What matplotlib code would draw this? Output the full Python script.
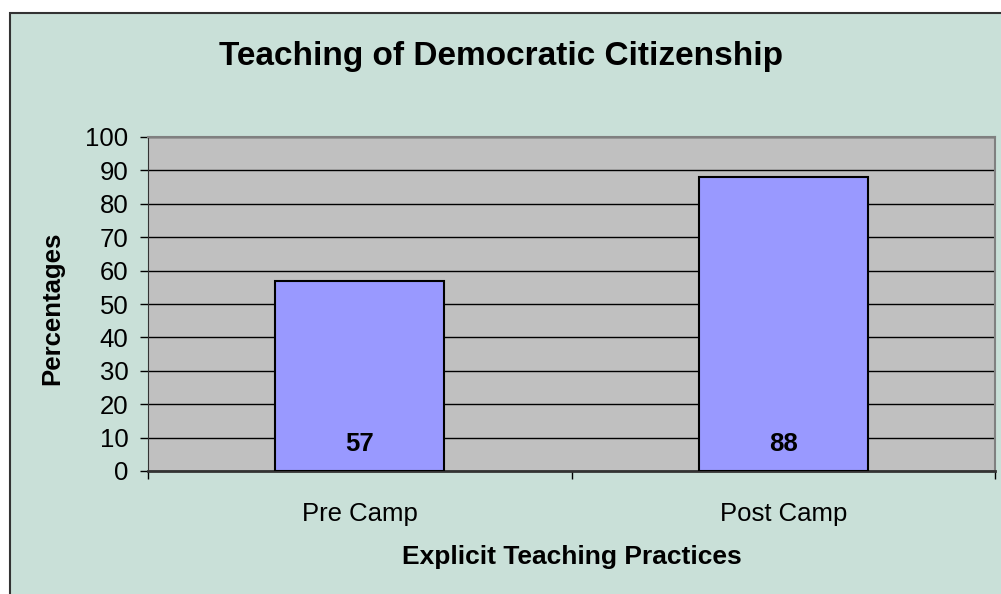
import matplotlib.pyplot as plt
from matplotlib.patches import Rectangle

# chart data
categories = ["Pre Camp", "Post Camp"]
values = [57, 88]
title = "Teaching of Democratic Citizenship"
x_title = "Explicit Teaching Practices"
y_title = "Percentages"
y_ticks = list(range(0, 101, 10))

plt.rcParams['font.family'] = ['Liberation Sans', 'DejaVu Sans']

W, H = 1001, 594
fig = plt.figure(figsize=(W / 100, H / 100), dpi=100, facecolor='white')

# outer chart area with border
bg = Rectangle((10 / W, -0.05), 1.1, 1 - 13 / H + 0.05, transform=fig.transFigure,
               facecolor='#C9E0D8', edgecolor='#333333', linewidth=1.5, zorder=-1)
fig.patches.append(bg)

# plot area
ax = fig.add_axes([148 / W, (H - 471) / H, 847 / W, 334 / H])
ax.set_zorder(1)
ax.set_facecolor('#C0C0C0')

x = list(range(len(categories)))
ax.bar(x, values, width=0.4, color='#9999FF', edgecolor='black', linewidth=1.5, zorder=3)

for xi, v in zip(x, values):
    ax.text(xi, 8.0, str(v), ha='center', va='center', fontsize=18.5, fontweight='bold', zorder=4)

ax.set_xlim(-0.5, len(categories) - 0.5)
ax.set_ylim(0, 100)
ax.set_yticks(y_ticks)
ax.yaxis.grid(True, color='black', linewidth=1)
ax.set_axisbelow(True)
ax.tick_params(axis='y', direction='out', length=6, width=1, pad=8, labelsize=18.5)

ax.set_xticks(x)
ax.set_xticklabels(categories)
ax.set_xticks([i - 0.5 for i in range(len(categories) + 1)], minor=True)
ax.tick_params(axis='x', which='major', length=0, pad=22, labelsize=18.5)
ax.tick_params(axis='x', which='minor', direction='out', length=6, width=1)

for side in ['top', 'right']:
    ax.spines[side].set_color('#808080')
    ax.spines[side].set_linewidth(1.5)
ax.spines['left'].set_color('#333333')
ax.spines['bottom'].set_color('#333333')
ax.spines['bottom'].set_linewidth(2)

fig.text(501 / W, 1 - 56 / H, title, ha='center', va='center', fontsize=24, fontweight='bold')
fig.text(572 / W, 1 - 557 / H, x_title, ha='center', va='center', fontsize=19, fontweight='bold')
fig.text(52 / W, 1 - 308 / H, y_title, ha='center', va='center', rotation=90,
         fontsize=18.5, fontweight='bold')

fig.savefig('out.png', dpi=100, facecolor='white')
